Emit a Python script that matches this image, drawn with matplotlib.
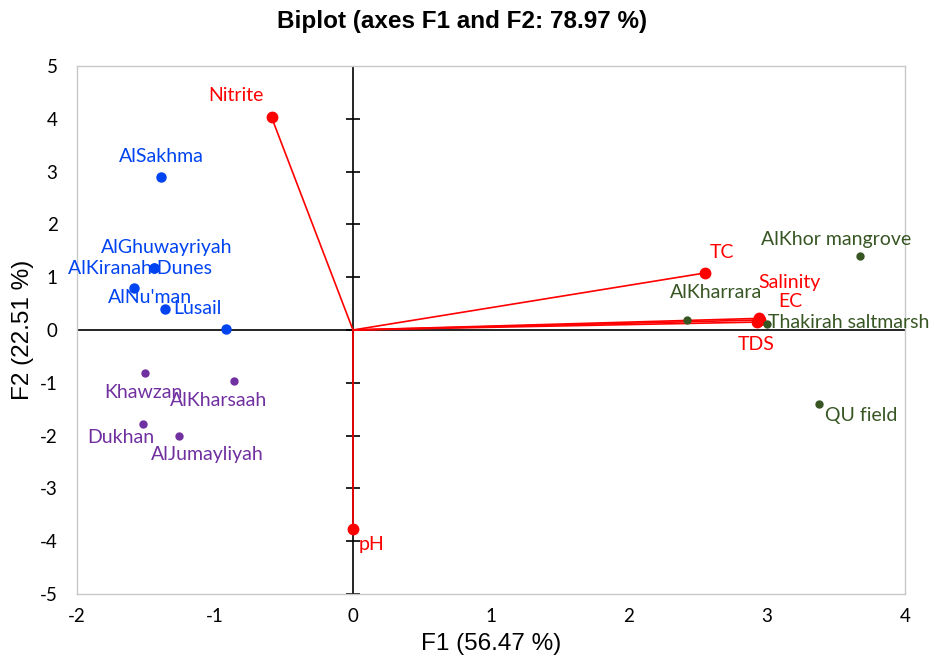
import matplotlib.pyplot as plt
import numpy as np

plt.rcParams["axes.unicode_minus"] = False

# observations (sites), grouped by colour
blue_names = ["AlSakhma", "AlGhuwayriyah", "AlKiranah Dunes", "AlNu'man", "Lusail", ""]
blue_x = [-1.39, -1.44, -1.44, -1.59, -1.36, -0.92]
blue_y = [2.90, 1.17, 1.17, 0.80, 0.40, 0.02]

purple_names = ["Khawzan", "AlKharsaah", "Dukhan", "AlJumayliyah"]
purple_x = [-1.51, -0.86, -1.52, -1.26]
purple_y = [-0.81, -0.97, -1.78, -2.01]

green_names = ["AlKhor mangrove", "AlKharrara", "Thakirah saltmarsh", "QU field"]
green_x = [3.67, 2.42, 3.00, 3.38]
green_y = [1.40, 0.19, 0.12, -1.40]

# variables (loadings)
var_names = ["Nitrite", "TC", "Salinity", "EC", "TDS", "pH"]
var_x = [-0.59, 2.55, 2.94, 2.95, 2.93, 0.0]
var_y = [4.03, 1.08, 0.22, 0.19, 0.15, -3.77]

# label offsets in points (dx, dy, ha)
blue_off = [(0, 15, "center"), (9, 15, "center"), (-10, 0, "center"), (12, -7, "center"), (6, 0, "left"), (0, 0, "center")]
purple_off = [(-1, -14, "center"), (-11, -14, "center"), (-16, -10, "center"), (20, -13, "center")]
green_off = [(-17, 12, "center"), (21, 20, "center"), (1, 1, "left"), (4, -8, "left")]
var_off = [(-26, 16, "center"), (12, 15, "center"), (22, 26, "center"), (22, 13, "center"), (-1, -16, "center"), (4, -11, "left")]

BLUE = "#0043F0"
PURPLE = "#7030A0"
GREEN = "#375623"
RED = "#FF0000"
lab_font = "Lato"

fig = plt.figure(figsize=(9.34, 6.71), dpi=100)
ax = fig.add_axes([0.0824, 0.1148, 0.8866, 0.7868])
ax.set_xlim(-2, 4)
ax.set_ylim(-5, 5)

for s in ax.spines.values():
    s.set_color("#C8C8C8")
    s.set_linewidth(1.0)

ax.set_xticks(np.arange(-2, 5))
ax.set_yticks(np.arange(-5, 6))
ax.tick_params(length=0, labelsize=13.5, pad=10)
ax.tick_params(axis="y", pad=14)
for lbl in ax.get_xticklabels() + ax.get_yticklabels():
    lbl.set_family(lab_font)

# axes through the origin, ticks on the vertical one
ax.axhline(0, color="black", lw=1.2, zorder=1)
ax.axvline(0, color="black", lw=1.2, zorder=1)
yt = np.arange(-5, 6)
ax.plot(np.zeros_like(yt), yt, ls="none", marker="_", ms=10, mew=1.2, color="black", zorder=1)

# vectors
for x, y in zip(var_x, var_y):
    ax.plot([0, x], [0, y], color=RED, lw=1.2, zorder=2)
ax.plot(var_x, var_y, ls="none", marker="o", ms=7.5, color=RED, zorder=3)

ax.plot(blue_x, blue_y, ls="none", marker="o", ms=6.5, color=BLUE, zorder=3)
ax.plot(purple_x, purple_y, ls="none", marker="o", ms=5, color=PURPLE, zorder=3)
ax.plot(green_x, green_y, ls="none", marker="o", ms=5, color=GREEN, zorder=3)


def put_labels(names, xs, ys, offs, color):
    for n, x, y, (dx, dy, ha) in zip(names, xs, ys, offs):
        if not n:
            continue
        ax.annotate(n, (x, y), xytext=(dx, dy), textcoords="offset points",
                    ha=ha, va="center", color=color, fontsize=14,
                    family=lab_font, zorder=4)


put_labels(blue_names, blue_x, blue_y, blue_off, BLUE)
put_labels(purple_names, purple_x, purple_y, purple_off, PURPLE)
put_labels(green_names, green_x, green_y, green_off, GREEN)
put_labels(var_names, var_x, var_y, var_off, RED)

fig.suptitle("Biplot (axes F1 and F2: 78.97 %)", x=0.495, y=0.985, fontsize=17.5,
             fontweight="bold", family="Liberation Sans")
ax.set_xlabel("F1 (56.47 %)", fontsize=17.5, family="Liberation Sans", labelpad=6)
ax.set_ylabel("F2 (22.51 %)", fontsize=17.5, family="Liberation Sans", labelpad=4)

fig.savefig("out.png", dpi=100)
